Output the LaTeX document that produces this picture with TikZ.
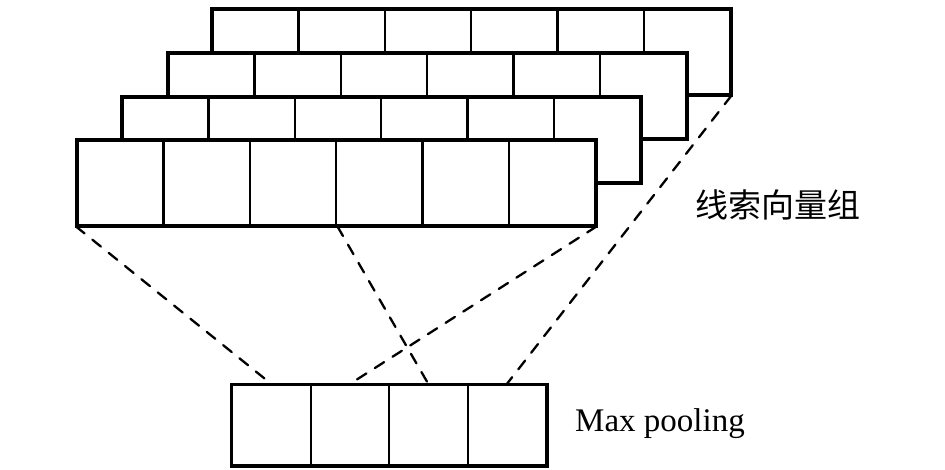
\documentclass[tikz,border=0pt]{standalone}
\usepackage{fontspec}
\setmainfont{Liberation Serif}
\newfontfamily\cjk{Noto Sans CJK SC}
\begin{document}
\begin{tikzpicture}[x=1pt,y=-1pt,
  cell/.style={draw,fill=white,line width=2.5pt,minimum width=86.33pt,minimum height=85pt,inner sep=0pt,anchor=north west},
  pcell/.style={draw,fill=white,line width=2.2pt,minimum width=78.5pt,minimum height=80pt,inner sep=0pt,anchor=north west},
  conn/.style={line width=2.3pt,line cap=round,dash pattern=on 11pt off 10pt}]
\useasboundingbox (0,0) rectangle (945,469);
% layers, back to front
\foreach \k/\ox/\oy in {3/211/8, 2/167/52, 1/121/96, 0/76/139}{
  \foreach \i in {1,...,6}{
    \node[cell] (L\k c\i) at ({\ox+(\i-1)*86.33},\oy) {};
  }
  \draw[line width=3pt] (L\k c1.north west) rectangle (L\k c6.south east);
}
% pooled vector
\foreach \i in {1,...,4}{
  \node[pcell] (P\i) at ({231+(\i-1)*78.5},384) {};
}
\draw[line width=3pt] (P1.north west) rectangle (P4.south east);
% connectors
\draw[conn] (L0c1.south west) -- (P1.north);
\draw[conn] (L0c3.south east) -- (P3.north);
\draw[conn] (L0c6.south east) -- (P2.north);
\draw[conn] (L3c6.south east) -- (P4.north);
% labels
\node[anchor=west,inner sep=0pt,font=\cjk\fontsize{33}{36}\selectfont] (lbl) at (695,205) {线索向量组};
\node[anchor=base west,inner sep=0pt,font=\fontsize{33}{38}\selectfont] (mp) at (575,431) {Max pooling};
\end{tikzpicture}
\end{document}
